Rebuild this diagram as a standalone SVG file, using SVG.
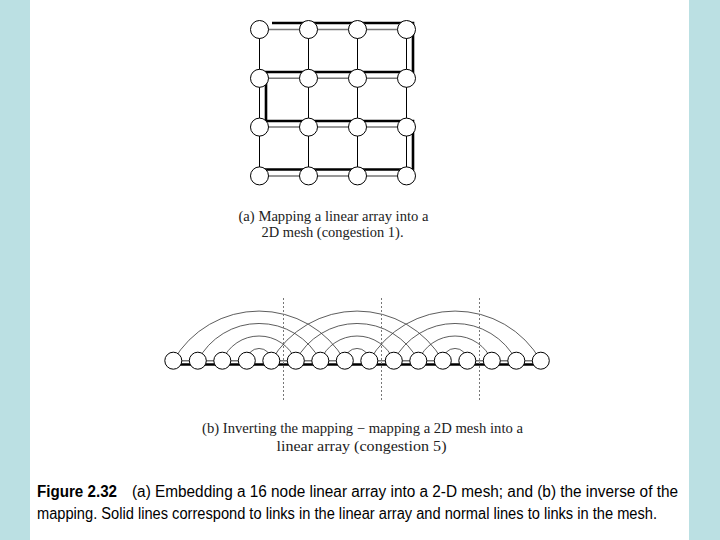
<svg xmlns="http://www.w3.org/2000/svg" width="720" height="540" viewBox="0 0 720 540">
<style>
.mn{fill:#fff;stroke:#000;stroke-width:1}
.mh{stroke:#777;stroke-width:1.5;fill:none}
.mv{stroke:#000;stroke-width:1;fill:none}
.thick{stroke:#000;stroke-width:2.6;fill:none}
.arc{stroke:#333;stroke-width:0.8;fill:none}
.cut{stroke:#777;stroke-width:1;stroke-dasharray:2 2;fill:none}
.cap{font-family:'Liberation Serif','Times New Roman',serif;fill:#222}
.fig{font-family:'Liberation Sans',Arial,sans-serif;fill:#000}
</style>
<rect x="0" y="0" width="720" height="540" fill="#fff"/>
<rect x="0" y="0" width="30" height="540" fill="#bbe0e3"/>
<rect x="689" y="0" width="31" height="540" fill="#bbe0e3"/>

<g id="connectors">
  <path class="mh" d="M259.5,29.5H406.5M259.5,78.3H406.5M259.5,127.1H406.5M259.5,175.9H406.5"/>
  <path class="mv" d="M259.5,29.5V175.9M308.5,29.5V175.9M357.5,29.5V175.9M406.5,29.5V175.9"/>
  <path class="thick" d="M272,23H413V72H266V121H413V169.5H262"/>

  <path class="thick" d="M173.3,364.5H540.8"/>
  <path class="mh" d="M173.3,360.7H246.8M271.3,360.7H344.8M369.3,360.7H442.8M467.3,360.7H540.8"/>
  <path class="arc" d="M173.3,360.7A98.9,98.9 0 0 1 344.8,360.7M197.8,360.7A69,69 0 0 1 320.3,360.7M222.3,360.7A39.7,39.7 0 0 1 295.8,360.7M246.8,360.7A12.25,12.25 0 0 1 271.3,360.7"/>
  <path class="arc" d="M271.3,360.7A98.9,98.9 0 0 1 442.8,360.7M295.8,360.7A69,69 0 0 1 418.3,360.7M320.3,360.7A39.7,39.7 0 0 1 393.8,360.7M344.8,360.7A12.25,12.25 0 0 1 369.3,360.7"/>
  <path class="arc" d="M369.3,360.7A98.9,98.9 0 0 1 540.8,360.7M393.8,360.7A69,69 0 0 1 516.3,360.7M418.3,360.7A39.7,39.7 0 0 1 491.8,360.7M442.8,360.7A12.25,12.25 0 0 1 467.3,360.7"/>
  <path class="cut" d="M283.5,298V400M381.5,298V400M479.5,298V400"/>
</g>

<g id="mesh-nodes">
  <g id="m00"><circle class="mn" cx="259.5" cy="29.5" r="9"/></g>
  <g id="m10"><circle class="mn" cx="308.5" cy="29.5" r="9"/></g>
  <g id="m20"><circle class="mn" cx="357.5" cy="29.5" r="9"/></g>
  <g id="m30"><circle class="mn" cx="406.5" cy="29.5" r="9"/></g>
  <g id="m01"><circle class="mn" cx="259.5" cy="78.3" r="9"/></g>
  <g id="m11"><circle class="mn" cx="308.5" cy="78.3" r="9"/></g>
  <g id="m21"><circle class="mn" cx="357.5" cy="78.3" r="9"/></g>
  <g id="m31"><circle class="mn" cx="406.5" cy="78.3" r="9"/></g>
  <g id="m02"><circle class="mn" cx="259.5" cy="127.1" r="9"/></g>
  <g id="m12"><circle class="mn" cx="308.5" cy="127.1" r="9"/></g>
  <g id="m22"><circle class="mn" cx="357.5" cy="127.1" r="9"/></g>
  <g id="m32"><circle class="mn" cx="406.5" cy="127.1" r="9"/></g>
  <g id="m03"><circle class="mn" cx="259.5" cy="175.9" r="9"/></g>
  <g id="m13"><circle class="mn" cx="308.5" cy="175.9" r="9"/></g>
  <g id="m23"><circle class="mn" cx="357.5" cy="175.9" r="9"/></g>
  <g id="m33"><circle class="mn" cx="406.5" cy="175.9" r="9"/></g>
</g>

<g id="linear-nodes">
  <g id="l0"><circle class="mn" cx="173.3" cy="360.7" r="8.5"/></g>
  <g id="l1"><circle class="mn" cx="197.8" cy="360.7" r="8.5"/></g>
  <g id="l2"><circle class="mn" cx="222.3" cy="360.7" r="8.5"/></g>
  <g id="l3"><circle class="mn" cx="246.8" cy="360.7" r="8.5"/></g>
  <g id="l4"><circle class="mn" cx="271.3" cy="360.7" r="8.5"/></g>
  <g id="l5"><circle class="mn" cx="295.8" cy="360.7" r="8.5"/></g>
  <g id="l6"><circle class="mn" cx="320.3" cy="360.7" r="8.5"/></g>
  <g id="l7"><circle class="mn" cx="344.8" cy="360.7" r="8.5"/></g>
  <g id="l8"><circle class="mn" cx="369.3" cy="360.7" r="8.5"/></g>
  <g id="l9"><circle class="mn" cx="393.8" cy="360.7" r="8.5"/></g>
  <g id="l10"><circle class="mn" cx="418.3" cy="360.7" r="8.5"/></g>
  <g id="l11"><circle class="mn" cx="442.8" cy="360.7" r="8.5"/></g>
  <g id="l12"><circle class="mn" cx="467.3" cy="360.7" r="8.5"/></g>
  <g id="l13"><circle class="mn" cx="491.8" cy="360.7" r="8.5"/></g>
  <g id="l14"><circle class="mn" cx="516.3" cy="360.7" r="8.5"/></g>
  <g id="l15"><circle class="mn" cx="540.8" cy="360.7" r="8.5"/></g>
</g>

<g id="labels">
  <text class="cap" x="238.5" y="221" font-size="14.5" textLength="190" lengthAdjust="spacingAndGlyphs">(a) Mapping a linear array into a</text>
  <text class="cap" x="261.5" y="237" font-size="14.5" textLength="142" lengthAdjust="spacingAndGlyphs">2D mesh (congestion 1).</text>
  <text class="cap" x="202" y="433" font-size="14.5" textLength="321" lengthAdjust="spacingAndGlyphs">(b) Inverting the mapping − mapping a 2D mesh into a</text>
  <text class="cap" x="276.5" y="451" font-size="14.5" textLength="170" lengthAdjust="spacingAndGlyphs">linear array (congestion 5)</text>
  <text class="fig" x="37" y="497" font-size="16" font-weight="bold" textLength="80" lengthAdjust="spacingAndGlyphs">Figure 2.32</text>
  <text class="fig" x="132" y="497" font-size="16" textLength="546" lengthAdjust="spacingAndGlyphs">(a) Embedding a 16 node linear array into a 2-D mesh; and (b) the inverse of the</text>
  <text class="fig" x="37" y="519" font-size="16" textLength="620" lengthAdjust="spacingAndGlyphs">mapping. Solid lines correspond to links in the linear array and normal lines to links in the mesh.</text>
</g>
</svg>
